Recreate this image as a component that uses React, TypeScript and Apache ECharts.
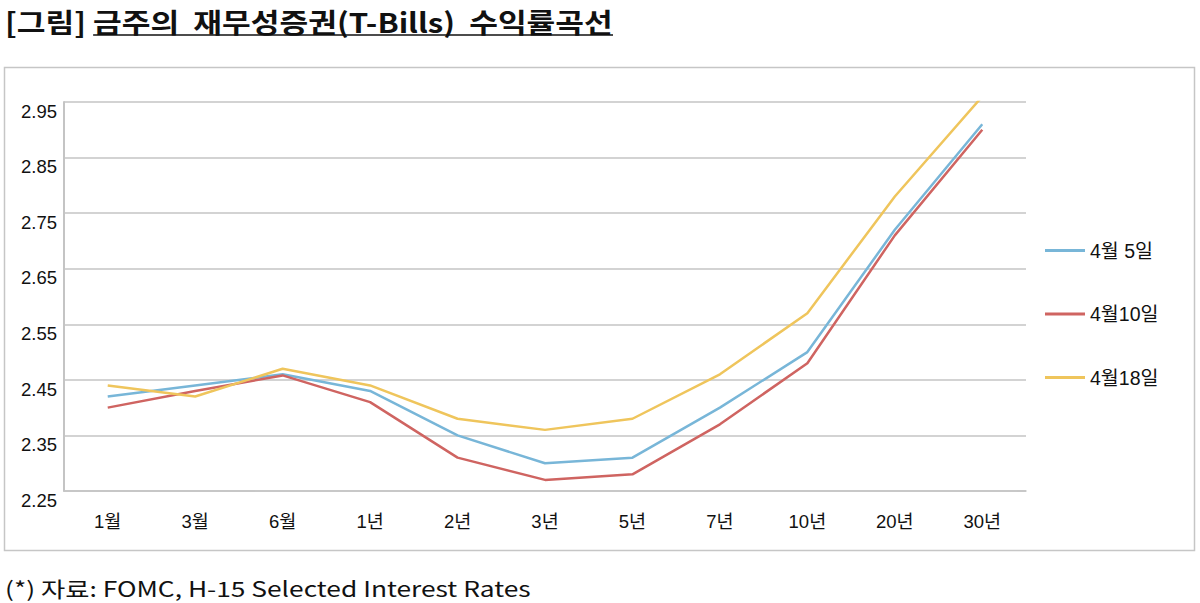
import React, { useEffect, useRef } from "react";
import * as echarts from "echarts";

// ---- data ----
const categories = ["1월", "3월", "6월", "1년", "2년", "3년", "5년", "7년", "10년", "20년", "30년"];
const seriesNames = ["4월 5일", "4월10일", "4월18일"];
const apr05 = [2.42, 2.44, 2.46, 2.43, 2.35, 2.3, 2.31, 2.4, 2.5, 2.72, 2.91];
const apr10 = [2.4, 2.43, 2.458, 2.41, 2.31, 2.27, 2.28, 2.37, 2.48, 2.71, 2.9];
const apr18 = [2.44, 2.42, 2.47, 2.44, 2.38, 2.36, 2.38, 2.46, 2.57, 2.78, 2.96];
const yMin = 2.25;
const yMax = 2.95;
const yStep = 0.1;
const titlePrefix = "[그림] ";
const titleMain = "금주의  재무성증권(T-Bills)  수익률곡선";
const sourceNote = "(*) 자료: FOMC, H-15 Selected Interest Rates";

const colors = ["#78b6d8", "#cf6461", "#efc55c"];
const gridColor = "#c4c4c4";
const labelFont = '"Liberation Sans", "Noto Sans CJK KR", sans-serif';
const cjkFont = '"Noto Sans CJK KR", sans-serif';

function measure(text: string, font: string): number {
  const c = document.createElement("canvas").getContext("2d");
  if (!c) return text.length * 10;
  c.font = font;
  return c.measureText(text).width;
}

export default function App() {
  const ref = useRef<HTMLDivElement>(null);

  useEffect(() => {
    if (!ref.current) return;
    const chart = echarts.init(ref.current, undefined, { renderer: "svg" });

    const titleFontCss = `bold 27px ${cjkFont}`;
    const fullTitle = titlePrefix + titleMain;
    const titleW = measure(fullTitle, titleFontCss);
    const prefixW = measure(titlePrefix, titleFontCss);
    const titleLeft = 5;
    const titleRight = 613;
    const titleScale = (titleRight - titleLeft) / titleW;

    const noteFontCss = `21px ${cjkFont}`;
    const noteW = measure(sourceNote, noteFontCss);
    const noteScale = (531 - 5) / noteW;

    const seriesData = [apr05, apr10, apr18];

    chart.setOption({
      animation: false,
      backgroundColor: "#ffffff",
      color: colors,
      grid: { left: 64, right: 174, top: 102, bottom: 112, containLabel: false },
      xAxis: {
        type: "category",
        data: categories,
        boundaryGap: true,
        axisLine: { show: true, lineStyle: { color: gridColor, width: 1.5 } },
        axisTick: { show: false },
        axisLabel: {
          color: "#111",
          fontSize: 18.5,
          fontFamily: labelFont,
          margin: 21,
          interval: 0,
        },
      },
      yAxis: {
        type: "value",
        min: yMin,
        max: yMax,
        interval: yStep,
        axisLine: { show: true, lineStyle: { color: gridColor, width: 2 } },
        axisTick: { show: false },
        splitLine: { show: true, lineStyle: { color: gridColor, width: 1.5 } },
        axisLabel: {
          color: "#111",
          fontSize: 18.5,
          fontFamily: labelFont,
          margin: 7,
          verticalAlign: "top",
          formatter: (v: number) => v.toFixed(2),
        },
      },
      legend: {
        orient: "vertical",
        left: 1040,
        top: 234.5,
        itemWidth: 40,
        itemHeight: 3,
        itemGap: 41.5,
        icon: "rect",
        data: seriesNames,
        textStyle: {
          color: "#111",
          fontSize: 19.5,
          lineHeight: 22,
          fontFamily: labelFont,
        },
      },
      series: seriesNames.map((name, i) => ({
        name,
        type: "line",
        data: seriesData[i],
        showSymbol: false,
        symbol: "none",
        lineStyle: { width: 2.5, color: colors[i] },
        itemStyle: { color: colors[i] },
        clip: true,
      })),
      graphic: [
        {
          type: "rect",
          shape: { x: 4.5, y: 67.5, width: 1190, height: 483 },
          style: { fill: "none", stroke: "#c6c6c6", lineWidth: 1.5 },
          silent: true,
        },
        {
          type: "text",
          x: titleLeft,
          y: 20.5,
          scaleX: titleScale,
          style: {
            text: fullTitle,
            font: titleFontCss,
            fill: "#111",
            verticalAlign: "middle",
            align: "left",
          },
        },
        {
          type: "line",
          shape: {
            x1: titleLeft + prefixW * titleScale,
            y1: 35,
            x2: titleRight,
            y2: 35,
          },
          style: { stroke: "#111", lineWidth: 1.6 },
        },
        {
          type: "text",
          x: 5,
          y: 588,
          scaleX: noteScale,
          style: {
            text: sourceNote,
            font: noteFontCss,
            fill: "#111",
            verticalAlign: "middle",
            align: "left",
          },
        },
      ],
    });

    return () => {
      chart.dispose();
    };
  }, []);

  return (
    <div
      ref={ref}
      style={{ position: "absolute", left: 0, top: 0, width: 1200, height: 603, background: "#fff" }}
    />
  );
}
